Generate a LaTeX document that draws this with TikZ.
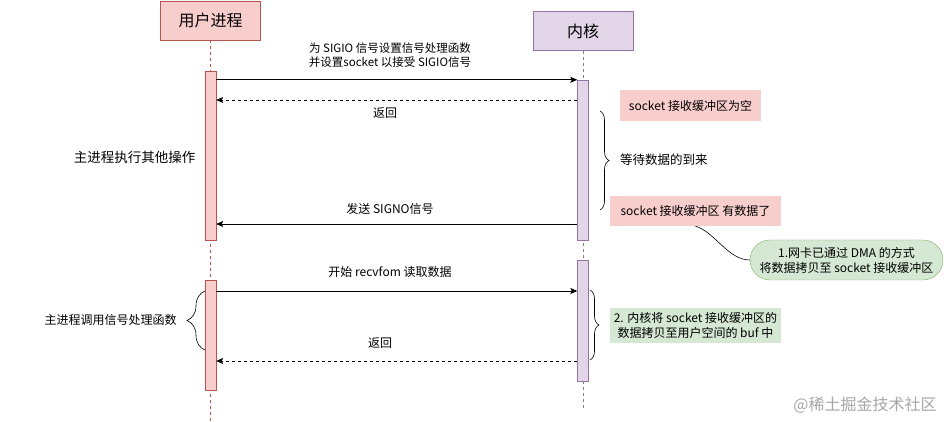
\documentclass[tikz,border=0pt]{standalone}
\usepackage{fontspec}
\setmainfont{Noto Sans CJK SC}
\usepackage{xcolor}
\usetikzlibrary{arrows.meta, positioning, decorations.pathreplacing}
\definecolor{userfill}{HTML}{F8CECC}
\definecolor{userline}{HTML}{B85450}
\definecolor{kernfill}{HTML}{E1D5E7}
\definecolor{kernline}{HTML}{9673A6}
\definecolor{notegreen}{HTML}{D5E8D4}
\definecolor{greenline}{HTML}{82B366}

\begin{document}
\begin{tikzpicture}[
    x=1pt, y=-1pt,
    head/.style={rectangle, draw, inner sep=0pt, minimum width=100pt, minimum height=39pt, font=\fontsize{16}{18}\selectfont},
    act/.style={rectangle, draw, inner sep=0pt, minimum width=11pt},
    note/.style={rectangle, inner sep=0pt, align=center, font=\fontsize{12}{15}\selectfont},
    lbl/.style={inner sep=0pt, align=center, font=\fontsize{12}{14}\selectfont},
    msg/.style={-{Stealth[length=7pt, width=6pt, inset=1.5pt]}, line width=0.8pt},
    ret/.style={msg, dashed},
    lifeline/.style={dashed, line width=0.6pt},
    brc/.style={decorate, decoration={brace, amplitude=#1}, line width=0.6pt}
]
    \useasboundingbox (0,0) rectangle (951,422);

    % participants
    \node[head, fill=userfill, draw=userline] (user) at (210.5,20.5) {用户进程};
    \node[head, fill=kernfill, draw=kernline] (kernel) at (583,31) {内核};
    \coordinate (bottom) at (0,422);
    \draw[lifeline, userline] (user.south) -- (user.south |- bottom);
    \draw[lifeline, gray] (kernel.south) -- (kernel.south |- 0,408);

    % activations
    \node[act, fill=userfill, draw=userline, minimum height=169pt] (ua1) at (210.5,155.5) {};
    \node[act, fill=userfill, draw=userline, minimum height=110pt] (ua2) at (210.5,335) {};
    \node[act, fill=kernfill, draw=kernline, minimum height=160pt] (ka1) at (583,160) {};
    \node[act, fill=kernfill, draw=kernline, minimum height=121pt] (ka2) at (583,320.5) {};

    % message levels
    \coordinate (m2) at (0,100);
    \coordinate (m3) at (0,224);
    \coordinate (m4) at (0,291);
    \coordinate (m5) at (0,361);

    \draw[msg] (ua1.east |- ka1.north) -- (ka1.north west);
    \draw[ret] (ka1.west |- m2) -- (ua1.east |- m2);
    \draw[msg] (ka1.west |- m3) -- (ua1.east |- m3);
    \draw[msg] (ua2.east |- m4) -- (ka2.west |- m4);
    \draw[ret] (ka2.west |- m5) -- (ua2.east |- m5);

    \node[lbl, font=\fontsize{11.5}{14}\selectfont] (setup) at (390,55) {为 SIGIO 信号设置信号处理函数\\并设置socket 以接受 SIGIO信号};
    \node[lbl] (back1) at (385,113) {返回};
    \node[lbl] (signo) at (390,209) {发送 SIGNO信号};
    \node[lbl] (recv) at (390,272) {开始 recvfom 读取数据};
    \node[lbl] (back2) at (380,343) {返回};

    % left side
    \node[lbl, font=\fontsize{13.5}{16}\selectfont] (busy) at (134.5,157) {主进程执行其他操作};
    \node[lbl] (handler) at (110.5,320) {主进程调用信号处理函数};
    \draw[brc=18pt] (205,350) -- (205,291);

    % right side notes
    \node[note, fill=userfill, minimum width=141pt, minimum height=31pt] (empty) at (690.5,105.5) {socket 接收缓冲区为空};
    \node[note, fill=userfill, minimum width=171pt, minimum height=30pt] (ready) at (695.5,211) {socket 接收缓冲区 有数据了};
    \draw[brc=9pt] (600,111) -- (600,210);
    \node[lbl, anchor=west, font=\fontsize{12.5}{15}\selectfont] (wait) at (620,160) {等待数据的到来};

    \node[note, fill=notegreen, draw=greenline, rounded corners=20pt, minimum width=193pt, minimum height=40pt] (dma) at (846.5,260) {1.网卡已通过 DMA 的方式\\将数据拷贝至 socket 接收缓冲区};
    \draw[line width=0.6pt] (ready.south) .. controls (715,232) and (728,260) .. (dma.west);

    \draw[brc=9pt] (590,290) -- (590,360);
    \node[note, fill=notegreen, minimum width=171pt, minimum height=35pt] (copy) at (695.5,325.5) {2. 内核将 socket 接收缓冲区的\\数据拷贝至用户空间的 buf 中};

    \node[lbl, text=black!35, font=\fontsize{16}{18}\selectfont] (mark) at (865,405) {@稀土掘金技术社区};
\end{tikzpicture}
\end{document}
